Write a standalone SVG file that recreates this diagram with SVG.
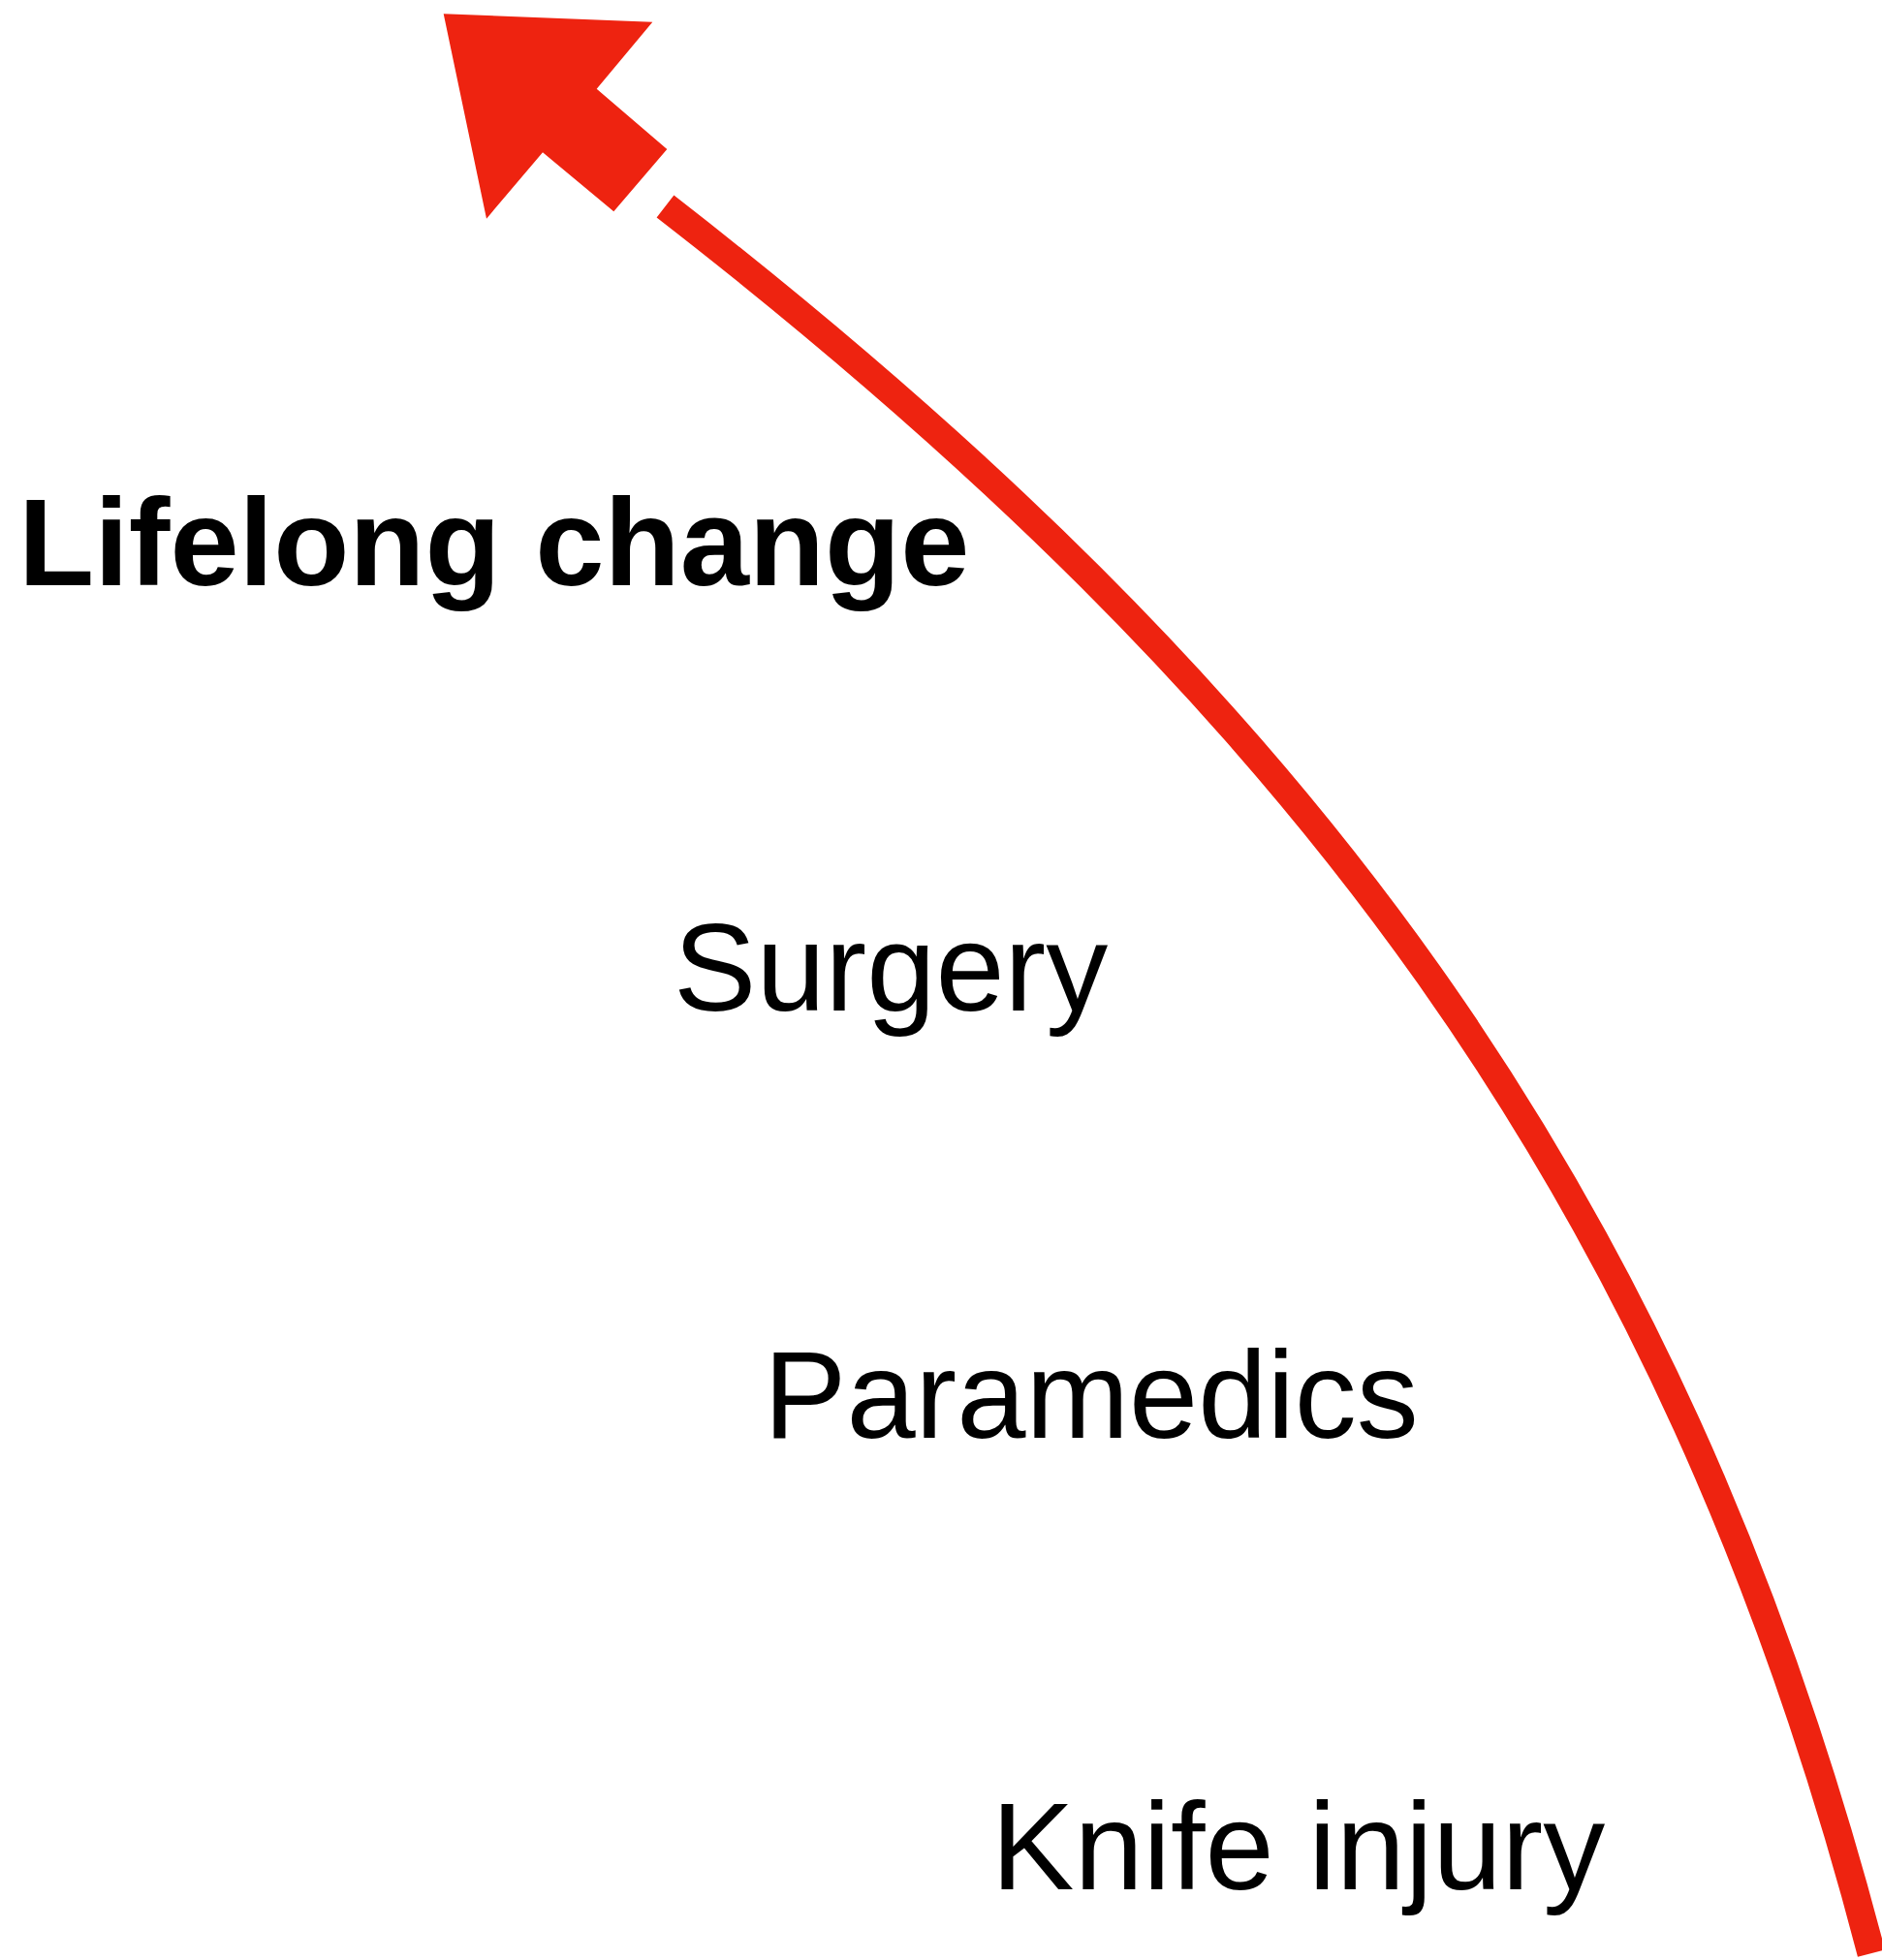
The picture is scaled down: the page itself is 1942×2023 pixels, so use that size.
<svg xmlns="http://www.w3.org/2000/svg" width="1942" height="2023" viewBox="0 0 1942 2023">
<style>
.lbl{font-family:"Liberation Sans",Arial,sans-serif;font-size:128px;fill:#000}
.bold{font-weight:bold}
.red{fill:#EE2310}
.curve{fill:none;stroke:#EE2310;stroke-width:29;stroke-linecap:butt}
</style>
<rect width="1942" height="2023" fill="#fff"/>
<g id="connectors">
<path class="curve" d="M686.5,213 C1334,716 1724,1222 1931,2016"/>
<polygon class="red" points="457.7,14.3 673.3,22.7 615.7,91.7 688.3,154 633.3,218.3 560,157.3 502,225.7"/>
</g>
<g id="lifelong"><text class="lbl bold" x="19" y="604">Lifelong change</text></g>
<g id="surgery"><text class="lbl" x="695" y="1043">Surgery</text></g>
<g id="paramedics"><text class="lbl" x="788" y="1484">Paramedics</text></g>
<g id="knife"><text class="lbl" x="1023" y="1950">Knife injury</text></g>
</svg>
